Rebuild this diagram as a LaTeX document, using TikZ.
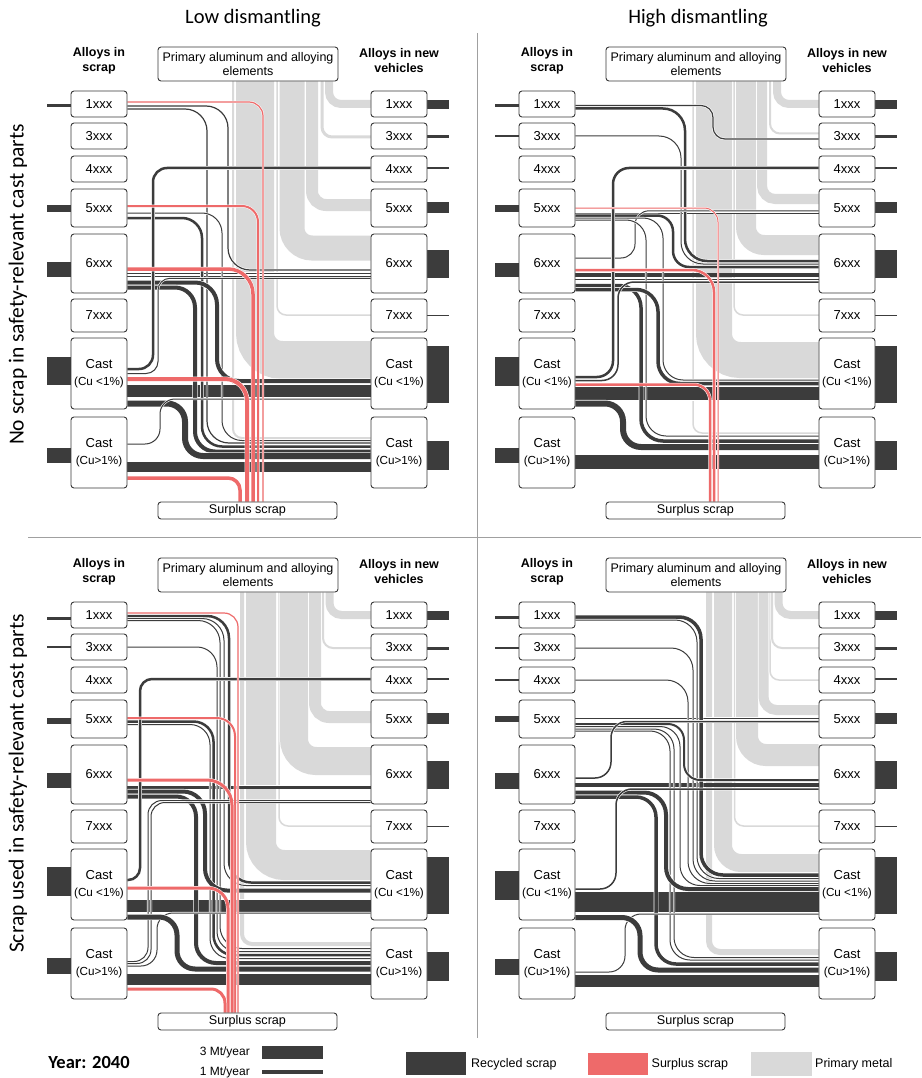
\documentclass[tikz,border=0pt]{standalone}
\usepackage{fontspec}
\setmainfont{Liberation Sans}
\newfontfamily\calfont{Carlito}
\pgfdeclarelayer{flows}
\pgfsetlayers{flows,main}
\definecolor{recc}{HTML}{3C3C3C}
\definecolor{surc}{HTML}{EE6A6A}
\definecolor{pric}{HTML}{D9D9D9}
\definecolor{boxc}{HTML}{383838}
\definecolor{sepc}{HTML}{A0A0A0}
\tikzset{
  rec/.style={draw=recc, line width=#1pt, preaction={draw=white, line width=#1pt+1.2pt}},
  sur/.style={draw=surc, line width=#1pt, preaction={draw=white, line width=#1pt+1pt}},
  pri/.style={draw=pric, line width=#1pt, preaction={draw=white, line width=#1pt+1.5pt}},
  stub/.style={draw=recc, line width=#1pt},
  bx/.style={draw=boxc, fill=white, rounded corners=3pt, line width=0.9pt,
    minimum width=56pt, inner sep=1pt, align=center, font=\fontsize{13}{16.5}\selectfont},
  hd/.style={align=center, font=\bfseries\fontsize{12.5}{15}\selectfont, inner sep=0pt},
  ttl/.style={font=\calfont\fontsize{20.5}{24}\selectfont, inner sep=0pt},
  sep/.style={draw=sepc, line width=1pt},
  lgbox/.style={inner sep=0pt, minimum width=60pt, minimum height=23pt},
  lgtxt/.style={anchor=west, inner sep=0pt, font=\fontsize{12.5}{15}\selectfont},
}
% flow: left box -> turn column -> right box
\newcommand\Fl[7][18]{\draw[#2, rounded corners=#1pt] (#3.east |- 0,#4) -| (#5,#7) -- (#6.west |- 0,#7);}
% straight flow between boxes on one level
\newcommand\Fs[4]{\draw[#1] (#2.east |- 0,#3) -- (#4.west |- 0,#3);}
% surplus flow: left box -> down into the surplus box
\newcommand\Fu[6][18]{\draw[#2, rounded corners=#1pt] (#3.east |- 0,#4) -| (#6.north -| #5,0);}
% primary flow: primary box -> down -> right box
\newcommand\Fp[6][12]{\draw[#2, rounded corners=#1pt] (#3.south -| #4,0) |- (#5.west |- 0,#6);}
% input and output stubs
\newcommand\Sl[3]{\draw[stub=#3] (#1.west |- 0,#2) -- ++(-24,0);}
\newcommand\Sr[3]{\draw[stub=#3] (#1.east |- 0,#2) -- ++(22,0);}
% the boxes of one panel
\newcommand\Boxes[1]{%
  \node[hd] (#1hL) at (99,60.5) {Alloys in\\scrap};
  \node[hd] (#1hR) at (399,60.5) {Alloys in new\\vehicles};
  \node[bx, minimum width=180pt, minimum height=34pt, font=\fontsize{12.5}{14.5}\selectfont] (#1P) at (248,64) {Primary aluminum and alloying\\elements};
  \node[bx, minimum width=179pt, minimum height=17pt, inner sep=0pt, font=\fontsize{12.6}{14}\selectfont] (#1S) at (247.5,510.5) {Surplus scrap};
  \foreach \k/\yc/\hc in {1/104/26,3/136/26,4/169/26,5/208/38,6/263.5/59,7/315.5/33}{%
    \node[bx, minimum height=\hc pt] (#1L\k) at (99,\yc) {\k xxx};
    \node[bx, minimum height=\hc pt] (#1R\k) at (399,\yc) {\k xxx};}
  \node[bx, minimum height=71pt] (#1Lc1) at (99,373.5) {Cast\\{\fontsize{11.7}{13}\selectfont(Cu <1\%)}};
  \node[bx, minimum height=71pt] (#1Rc1) at (399,373.5) {Cast\\{\fontsize{11.7}{13}\selectfont(Cu <1\%)}};
  \node[bx, minimum height=71pt] (#1Lc2) at (99,452.5) {Cast\\{\fontsize{11.7}{13}\selectfont(Cu>1\%)}};
  \node[bx, minimum height=71pt] (#1Rc2) at (399,452.5) {Cast\\{\fontsize{11.7}{13}\selectfont(Cu>1\%)}};
}
% output stubs, the same demand in every panel
\newcommand\Outs[1]{%
  \Sr{#1R1}{104.5}{9}\Sr{#1R3}{137}{3}\Sr{#1R4}{168}{2}\Sr{#1R5}{207.5}{11}
  \Sr{#1R6}{263.5}{28}\Sr{#1R7}{315}{1}\Sr{#1Rc1}{374.5}{57}\Sr{#1Rc2}{455.5}{29}}

\begin{document}
\begin{tikzpicture}[x=1pt, y=-1pt]
\useasboundingbox (0,0) rectangle (921,1078);

% titles and separators
\node[ttl] (tLow) at (253,18.5) {Low dismantling};
\node[ttl] (tHigh) at (698,18.5) {High dismantling};
\node[ttl, rotate=90, font=\calfont\fontsize{21.5}{24}\selectfont] (sTop) at (18,284.5) {No scrap in safety-relevant cast parts};
\node[ttl, rotate=90, font=\calfont\fontsize{21.5}{24}\selectfont] (sBot) at (18,783.5) {Scrap used in safety-relevant cast parts};
\draw[sep] (477,33) -- (477,1038);
\draw[sep] (28,537) -- (921,537);

% ---------------- low dismantling, no scrap in safety parts
\begin{scope}
\Boxes{a}
\begin{pgfonlayer}{flows}
\Fp[9]{pri=2}{aP}{233}{aRc2}{438}
\Fp[27]{pri=38}{aP}{255}{aRc1}{360}
\Fp[9]{pri=1.5}{aP}{277}{aR7}{315}
\Fp[20]{pri=25}{aP}{292}{aR6}{248}
\Fp[14]{pri=12}{aP}{312}{aR5}{205}
\Fp[10]{pri=3}{aP}{322}{aR3}{137}
\Fp[12]{pri=8}{aP}{329}{aR1}{104}
\Sl{aL1}{106}{3}\Sl{aL5}{208}{7}\Sl{aL6}{269.5}{15}\Sl{aLc1}{371}{28}\Sl{aLc2}{455.5}{15}
\Outs{a}
\Fs{rec=12}{aLc1}{391}{aRc1}
\Fs{rec=10}{aLc2}{467}{aRc2}
\Fs{rec=1}{aL6}{273.5}{aR6}
\Fs{rec=1}{aL6}{276}{aR6}
\Fl[22]{rec=1.2}{aL1}{106}{228}{aR6}{270}
\Fl[22]{rec=1.2}{aL1}{109}{207}{aRc2}{443}
\Fl[20]{rec=1}{aL5}{213}{222}{aRc2}{440.5}
\Fl[20]{rec=2.5}{aL5}{218}{202}{aRc2}{446.5}
\Fl[22]{rec=4}{aL6}{282.5}{217}{aRc1}{381}
\Fl[20]{rec=4}{aL6}{287.5}{195}{aRc2}{451.5}
\Fl[14]{rec=2.5}{aLc1}{369}{153}{aR4}{168}
\Fl[12]{rec=1}{aLc1}{373.5}{158}{aR6}{278.3}
\Fl[18]{rec=6}{aLc1}{403.5}{185}{aRc2}{456}
\Fl[15]{rec=1}{aLc2}{444}{160}{aRc1}{399}
\Fu[14]{sur=1.2}{aL1}{102}{263}{aS}
\Fu[16]{sur=2}{aL5}{206}{258}{aS}
\Fu[25]{sur=3.5}{aL6}{269}{253}{aS}
\Fu[22]{sur=4}{aLc1}{379}{247}{aS}
\Fu[12]{sur=3.5}{aLc2}{478}{240}{aS}
\end{pgfonlayer}
\end{scope}

% ---------------- high dismantling, no scrap in safety parts
\begin{scope}[shift={(448,0)}]
\Boxes{b}
\begin{pgfonlayer}{flows}
\Fp[9]{pri=1.5}{bP}{245}{bRc2}{433}
\Fp[26]{pri=36}{bP}{266}{bRc1}{360}
\Fp[9]{pri=1.5}{bP}{286}{bR7}{315}
\Fp[18]{pri=20}{bP}{298}{bR6}{245}
\Fp[13]{pri=10}{bP}{314}{bR5}{199}
\Fp[10]{pri=2}{bP}{322}{bR3}{133.5}
\Fp[12]{pri=8}{bP}{329}{bR1}{104}
\Sl{bL1}{106}{3}\Sl{bL3}{136}{1.5}\Sl{bL5}{208}{7}\Sl{bL6}{270}{14}\Sl{bLc1}{371.5}{29}\Sl{bLc2}{455.5}{15}
\Outs{b}
\Fs{rec=13}{bLc1}{393.5}{bRc1}
\Fs{rec=14}{bLc2}{462}{bRc2}
\Fs{rec=1}{bL5}{213}{bR5}
\Fs{rec=3.5}{bL6}{275}{bR6}
\Fs{rec=1}{bL6}{279.5}{bR6}
\Fl[12]{rec=1.2}{bL1}{105.5}{265}{bR3}{139}
\Fl[22]{rec=2.5}{bL1}{108.5}{237}{bR6}{261}
\Fl[22]{rec=1}{bL3}{136}{233}{bR6}{264}
\Fl[16]{rec=2.5}{bL5}{215.5}{225}{bR6}{267}
\Fl[14]{rec=1}{bL6}{258}{187}{bR5}{210.8}
\Fl[20]{rec=1}{bL5}{218}{215}{bRc1}{380}
\Fl[20]{rec=1}{bL5}{220}{198}{bRc2}{436}
\Fl[22]{rec=3.5}{bL6}{285.5}{193}{bRc2}{441}
\Fl[22]{rec=3.5}{bL6}{289.5}{210}{bRc1}{383.5}
\Fl[16]{rec=2.5}{bLc1}{377}{165}{bR4}{168}
\Fl[16]{rec=1.5}{bLc1}{380.5}{170}{bR6}{282}
\Fl[18]{rec=6}{bLc1}{403.5}{175}{bRc2}{447}
\Fu[14]{sur=1}{bL5}{208}{270}{bS}
\Fu[22]{sur=2.5}{bL6}{270}{266}{bS}
\Fu[16]{sur=2.5}{bLc1}{384.5}{262}{bS}
\end{pgfonlayer}
\end{scope}

% ---------------- low dismantling, scrap used in safety parts
\begin{scope}[shift={(0,511)}]
\Boxes{c}
\begin{pgfonlayer}{flows}
\Fp[10]{pri=4}{cP}{242}{cRc2}{433}
\Fp[23]{pri=30}{cP}{261}{cRc1}{354}
\Fp[9]{pri=1.5}{cP}{279}{cR7}{315}
\Fp[22]{pri=28}{cP}{294}{cR6}{250}
\Fp[14]{pri=12}{cP}{315}{cR5}{206}
\Fp[10]{pri=2}{cP}{323}{cR3}{137}
\Fp[12]{pri=8}{cP}{329.5}{cR1}{104}
\Sl{cL1}{107}{3}\Sl{cL3}{136}{1.2}\Sl{cL5}{210}{6}\Sl{cL6}{269}{15}\Sl{cLc1}{370.5}{29}\Sl{cLc2}{455}{16}
\Outs{c}
\Fs{rec=12}{cLc1}{394.5}{cRc1}
\Fs{rec=11}{cLc2}{468}{cRc2}
\Fs{rec=3}{cL6}{276}{cR6}
\Fl[22]{rec=2.5}{cL1}{105}{229}{cRc1}{371.5}
\Fl[22]{rec=1}{cL1}{107.5}{224}{cRc1}{374.5}
\Fl[22]{rec=1}{cL1}{109.5}{220}{cRc2}{437.5}
\Fl[20]{rec=1}{cL3}{136}{217}{cRc2}{440.5}
\Fl[20]{rec=2.5}{cL5}{210.5}{213.5}{cRc2}{444}
\Fl[20]{rec=1}{cL5}{213.5}{210}{cRc2}{447.5}
\Fl[22]{rec=4}{cL6}{280.5}{205}{cRc1}{379.5}
\Fl[20]{rec=4}{cL6}{285.5}{196}{cRc2}{452}
\Fl[12]{rec=2.5}{cLc1}{369}{140}{cR4}{168}
\Fl[14]{rec=1}{cLc2}{450.5}{148}{cR6}{289.5}
\Fl[14]{rec=1}{cLc2}{452.5}{151}{cR6}{291.5}
\Fl[16]{rec=1}{cLc2}{455}{157}{cRc1}{402}
\Fl[18]{rec=5}{cLc1}{406}{177}{cRc2}{458}
\Fu[14]{sur=1.2}{cL1}{102}{238}{cS}
\Fu[18]{sur=2}{cL5}{207}{235}{cS}
\Fu[25]{sur=3}{cL6}{269}{232}{cS}
\Fu[20]{sur=3}{cLc1}{377}{228}{cS}
\Fu[14]{sur=3}{cLc2}{478}{225}{cS}
\end{pgfonlayer}
\end{scope}

% ---------------- high dismantling, scrap used in safety parts
\begin{scope}[shift={(448,511)}]
\Boxes{d}
\begin{pgfonlayer}{flows}
\Fp[11]{pri=6}{dP}{261}{dRc2}{441}
\Fp[18]{pri=18}{dP}{275}{dRc1}{352}
\Fp[9]{pri=1.5}{dP}{286.5}{dR7}{315}
\Fp[19]{pri=22}{dP}{299}{dR6}{244}
\Fp[13]{pri=10}{dP}{315.5}{dR5}{199}
\Fp[9]{pri=1.5}{dP}{322}{dR4}{169}
\Fp[10]{pri=2}{dP}{324}{dR3}{137}
\Fp[12]{pri=8}{dP}{330.5}{dR1}{104}
\Sl{dL1}{106}{3}\Sl{dL3}{137}{1.2}\Sl{dL4}{169}{1.2}\Sl{dL5}{208}{6}\Sl{dL6}{270}{16}\Sl{dLc1}{374.5}{29}\Sl{dLc2}{456}{16}
\Outs{d}
\Fs{rec=20}{dLc1}{391}{dRc1}
\Fs{rec=12}{dLc2}{470}{dRc2}
\Fs{rec=1.5}{dL5}{207.5}{dR5}
\Fs{rec=3.5}{dL6}{274}{dR6}
\Fl[22]{rec=3.5}{dL1}{106}{253}{dRc1}{364}
\Fl[22]{rec=1}{dL1}{109}{249}{dRc1}{367.5}
\Fl[22]{rec=1}{dL3}{137}{245}{dRc1}{370}
\Fl[22]{rec=1}{dL4}{169}{240}{dRc1}{372.5}
\Fl[16]{rec=2}{dL5}{213}{236}{dR6}{269}
\Fl[20]{rec=1}{dL5}{215.5}{232}{dRc1}{374.5}
\Fl[20]{rec=1}{dL5}{218}{226}{dRc2}{446.5}
\Fl[20]{rec=1}{dL5}{220}{222}{dRc2}{449}
\Fl[16]{rec=1.5}{dL6}{267}{163}{dR5}{210.5}
\Fl[22]{rec=4}{dL6}{281.5}{218}{dRc1}{378}
\Fl[20]{rec=3.5}{dL6}{286}{208}{dRc2}{453}
\Fl[16]{rec=1.5}{dLc1}{378}{168}{dR6}{278}
\Fl[16]{rec=1}{dLc2}{461}{177}{dRc1}{403}
\Fl[18]{rec=5}{dLc1}{406.5}{192}{dRc2}{459}
\end{pgfonlayer}
\end{scope}

% ---------------- legend
\node[font=\calfont\bfseries\fontsize{18.5}{22}\selectfont, inner sep=0pt] (year) at (89,1062) {Year: 2040};
\node[fill=recc, inner sep=0pt, minimum width=61pt, minimum height=13pt] (bar3) at (292.5,1052.5) {};
\node[fill=recc, inner sep=0pt, minimum width=61pt, minimum height=4.5pt] (bar1) at (292.5,1072.2) {};
\node[anchor=east, inner sep=0pt, font=\fontsize{12}{14}\selectfont] (l3) at (250,1052.5) {3 Mt/year};
\node[anchor=east, inner sep=0pt, font=\fontsize{12}{14}\selectfont] (l1) at (250,1072.5) {1 Mt/year};
\node[lgbox, fill=recc] (lgR) at (436,1063.5) {};
\node[lgtxt] (tR) at (471,1064) {Recycled scrap};
\node[lgbox, fill=surc, minimum height=22pt] (lgS) at (618,1064) {};
\node[lgtxt] (tS) at (651.5,1064) {Surplus scrap};
\node[lgbox, fill=pric, minimum width=61pt, minimum height=24pt] (lgP) at (781.5,1064) {};
\node[lgtxt] (tP) at (815,1064) {Primary metal};
\end{tikzpicture}
\end{document}
